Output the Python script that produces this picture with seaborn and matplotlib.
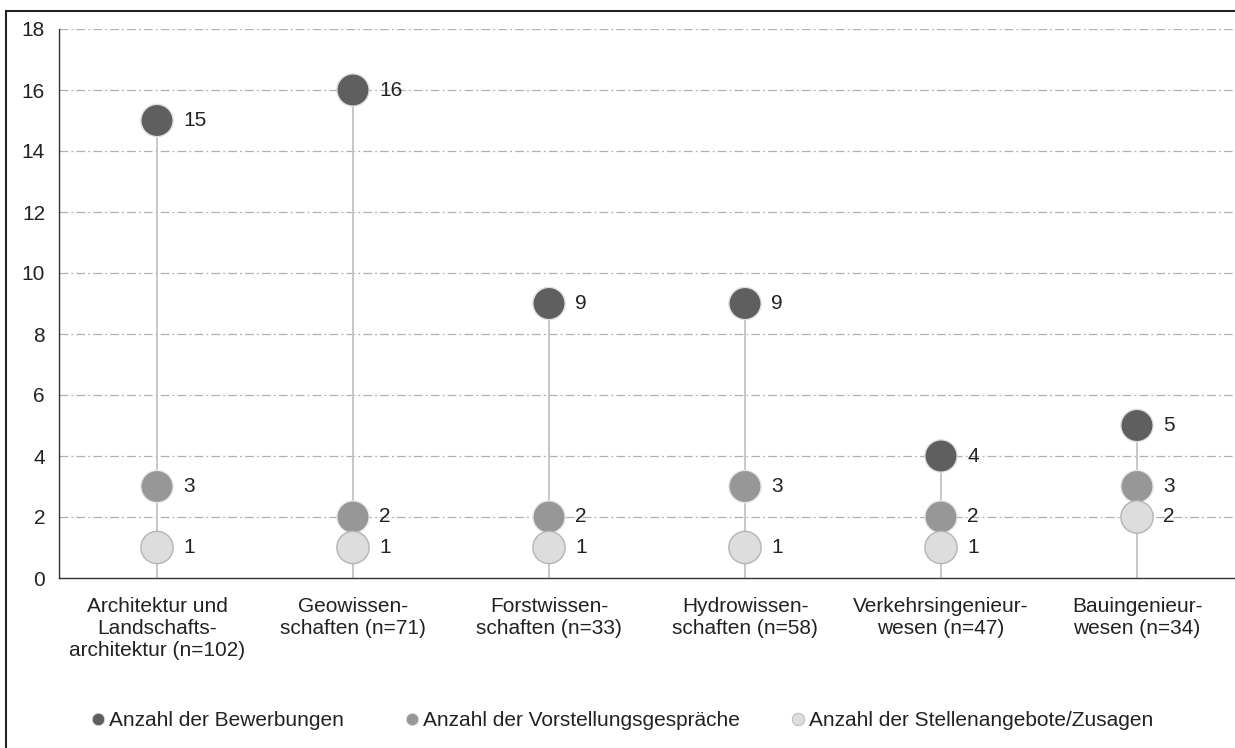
import pandas as pd
import numpy as np
import seaborn as sns
import matplotlib.pyplot as plt
from matplotlib.lines import Line2D
from matplotlib.patches import Rectangle

faecher = ["Architektur und\nLandschafts-\narchitektur (n=102)", "Geowissen-\nschaften (n=71)",
           "Forstwissen-\nschaften (n=33)", "Hydrowissen-\nschaften (n=58)",
           "Verkehrsingenieur-\nwesen (n=47)", "Bauingenieur-\nwesen (n=34)"]
bewerbungen = [15, 16, 9, 9, 4, 5]
gespraeche = [3, 2, 2, 3, 2, 3]
zusagen = [1, 1, 1, 1, 1, 2]
reihen = ["Anzahl der Bewerbungen", "Anzahl der Vorstellungsgespräche", "Anzahl der Stellenangebote/Zusagen"]

farben = {reihen[0]: "#5f5f5f", reihen[1]: "#979797", reihen[2]: "#dddddd"}
rand = {reihen[0]: "#e0e0e0", reihen[1]: "#e8e8e8", reihen[2]: "#b4b4b4"}

# long format, dark first so the light circles end up on top
df = pd.concat([
    pd.DataFrame({"fach": faecher, "wert": bewerbungen, "reihe": reihen[0]}),
    pd.DataFrame({"fach": faecher, "wert": gespraeche, "reihe": reihen[1]}),
    pd.DataFrame({"fach": faecher, "wert": zusagen, "reihe": reihen[2]}),
], ignore_index=True)

sns.set_style("white")
plt.rcParams["font.family"] = ["Liberation Sans", "DejaVu Sans"]
plt.rcParams["text.color"] = "#222222"

fig = plt.figure(figsize=(12.35, 7.48), dpi=100)
ax = fig.add_axes([59 / 1235, 1 - 578 / 748, 1 - 59 / 1235, (578 - 29) / 748])

pos = np.arange(len(faecher))
spitze = np.maximum.reduce([bewerbungen, gespraeche, zusagen])
ax.vlines(pos, 0, spitze, color="#c3c3c3", lw=1.3, zorder=1)

sns.scatterplot(data=df, x="fach", y="wert", hue="reihe", palette=farben, s=540,
                edgecolor=[rand[r] for r in df["reihe"]], linewidth=1.0,
                legend=False, ax=ax, zorder=3)

for _, row in df.iterrows():
    ax.annotate(str(row["wert"]), (faecher.index(row["fach"]), row["wert"]),
                xytext=(19, 0), textcoords="offset points", ha="left", va="center",
                fontsize=15, color="#222222", zorder=4)

ax.set_xlim(-0.5, 5.5)
ax.set_ylim(0, 18)
ax.set_yticks(range(0, 19, 2))
ax.set_xticks(pos)
ax.set_xticklabels(faecher)
ax.set_xticks(pos[:-1] + 0.5, minor=True)
ax.tick_params(axis="x", which="major", length=0, pad=14, labelsize=15, colors="#222222")
ax.tick_params(axis="x", which="minor", length=6, width=1, color="#444444", direction="out")
ax.tick_params(axis="y", length=6, width=1, color="#444444", pad=4, labelsize=15, labelcolor="#222222")
ax.set_xlabel("")
ax.set_ylabel("")

for y in range(2, 19, 2):
    ax.axhline(y, color="#b0b0b0", lw=0.9, linestyle=(0, (7, 2.5, 1.5, 2.5)), zorder=0)

for s in ["top", "right"]:
    ax.spines[s].set_visible(False)
for s in ["left", "bottom"]:
    ax.spines[s].set_color("#333333")
    ax.spines[s].set_linewidth(1.0)

# one legend entry per column position, like the original layout
for r, xpix in zip(reihen, [88, 402, 788]):
    h = Line2D([], [], marker="o", linestyle="", markersize=9,
               markerfacecolor=farben[r], markeredgecolor=rand[r], markeredgewidth=0.6)
    leg = fig.legend([h], [r], loc="center left", bbox_to_anchor=(xpix / 1235, 1 - 721 / 748),
                     frameon=False, fontsize=15, handletextpad=0.0, handlelength=1.0,
                     borderaxespad=0, borderpad=0)

fig.patches.append(Rectangle((6 / 1235, -0.1), 1.2, 1.1 - 11 / 748, transform=fig.transFigure,
                             fill=False, edgecolor="#222222", lw=1.5, figure=fig))

fig.savefig("out.png", dpi=100)
